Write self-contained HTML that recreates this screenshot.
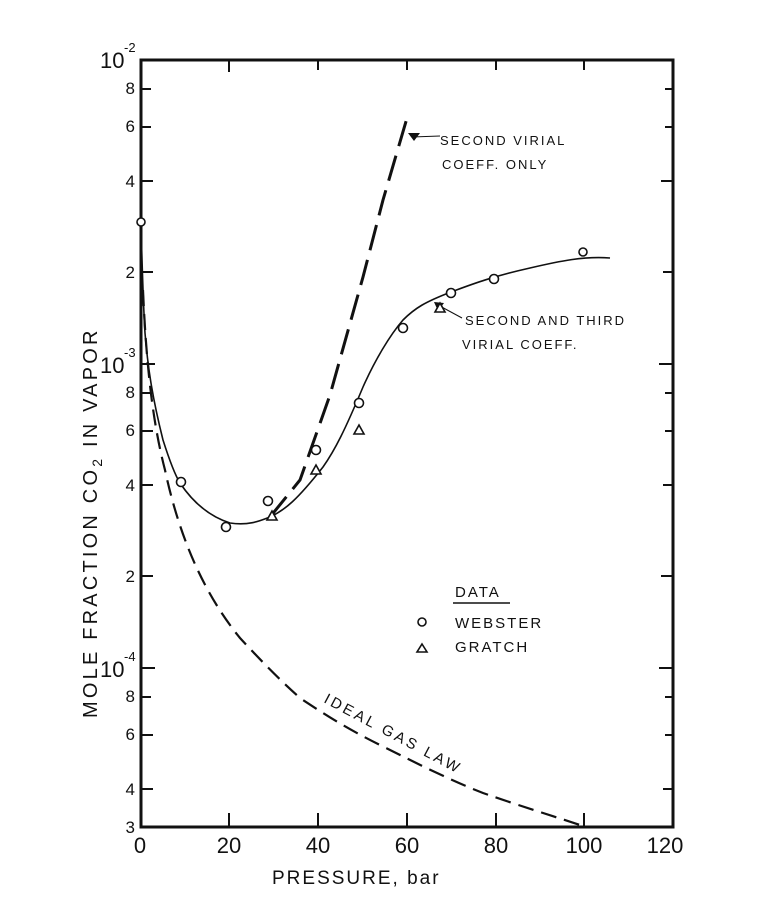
<!DOCTYPE html>
<html><head><meta charset="utf-8"><style>
html,body{margin:0;padding:0;background:#fff}
svg{display:block}
text{font-family:"Liberation Sans",sans-serif;fill:#111}
</style></head><body>
<svg width="768" height="897" viewBox="0 0 768 897" xmlns="http://www.w3.org/2000/svg">
<g stroke="#111" fill="none">
<rect x="141" y="60" width="532" height="767" stroke-width="3"/>
<path d="M229 827v-14M318 827v-14M407 827v-14M496 827v-14M584 827v-14M229 60v12M318 60v10M407 60v10M496 60v10M584 60v10" stroke-width="2"/>
<path d="M141 89h10M141 127h10M141 181h12M141 272h12M141 364h14M141 393h10M141 431h12M141 485h12M141 576h12M141 668h14M141 697h10M141 735h12M141 789h12" stroke-width="2"/>
<path d="M673 89h-8M673 127h-8M673 181h-12M673 272h-10M673 364h-14M673 393h-8M673 431h-8M673 485h-10M673 576h-12M673 668h-14M673 697h-8M673 735h-8M673 789h-10" stroke-width="2"/>
<path d="M141 225 C142 260 143 300 145 333 C148 370 153 400 163 440 C170 462 175 475 180 483 C190 498 205 515 230 523 C250 526 262 520 270 517 C285 510 297 500 323 467 C335 450 345 430 363 387 C375 360 390 335 403 320 C415 308 425 302 451 292 C470 285 490 277 530 268 C560 261 584 256 610 258" stroke-width="1.6"/>
<path d="M270 517 L300 480 L330 395 L363 277 L383 200 L407 118" stroke-width="3" stroke-dasharray="26 10"/>
<path d="M143 290 C146 360 152 420 165 470 C180 540 205 595 240 638 C265 665 280 680 300 698 C330 718 350 730 380 745 C420 765 450 780 483 793 C520 806 550 815 583 826" stroke-width="2.2" stroke-dasharray="16 8"/>
<path d="M412 137 L440 136" stroke-width="1"/>
<path d="M438 305 L462 318" stroke-width="1"/>
</g>
<polygon points="408,133 420,133 414,141" fill="#111"/>
<polygon points="434,302 444,303 438,311" fill="#111"/>
<g stroke="#111" stroke-width="1.6" fill="#fff">
<circle cx="141" cy="222" r="4"/>
<circle cx="181" cy="482" r="4.5"/>
<circle cx="226" cy="527" r="4.5"/>
<circle cx="268" cy="501" r="4.5"/>
<circle cx="316" cy="450" r="4.5"/>
<circle cx="359" cy="403" r="4.5"/>
<circle cx="403" cy="328" r="4.5"/>
<circle cx="451" cy="293" r="4.5"/>
<circle cx="494" cy="279" r="4.5"/>
<circle cx="583" cy="252" r="4"/>
<polygon points="272,511 277,520 267,520"/>
<polygon points="316,465 321,474 311,474"/>
<polygon points="359,425 364,434 354,434"/>
<polygon points="440,303 445,312 435,312"/>
<circle cx="422" cy="622" r="4"/>
<polygon points="422,644 427,652 417,652"/>
</g>
<g font-size="22">
<text x="140" y="853" text-anchor="middle">0</text>
<text x="229" y="853" text-anchor="middle">20</text>
<text x="318" y="853" text-anchor="middle">40</text>
<text x="407" y="853" text-anchor="middle">60</text>
<text x="496" y="853" text-anchor="middle">80</text>
<text x="584" y="853" text-anchor="middle">100</text>
<text x="665" y="853" text-anchor="middle">120</text>
</g>
<text x="272" y="884" font-size="19" letter-spacing="2">PRESSURE, bar</text>
<g font-size="17" text-anchor="end">
<text x="135" y="94">8</text>
<text x="135" y="132">6</text>
<text x="135" y="187">4</text>
<text x="135" y="278">2</text>
<text x="135" y="398">8</text>
<text x="135" y="436">6</text>
<text x="135" y="491">4</text>
<text x="135" y="582">2</text>
<text x="135" y="702">8</text>
<text x="135" y="740">6</text>
<text x="135" y="795">4</text>
<text x="135" y="833">3</text>
</g>
<g font-size="22">
<text x="100" y="68">10</text><text x="124" y="52" font-size="13">-2</text>
<text x="100" y="373">10</text><text x="124" y="357" font-size="13">-3</text>
<text x="100" y="677">10</text><text x="124" y="661" font-size="13">-4</text>
</g>
<text transform="translate(97,718) rotate(-90)" font-size="20" letter-spacing="3.2">MOLE FRACTION CO<tspan font-size="14" dy="5">2</tspan><tspan dy="-5"> IN VAPOR</tspan></text>
<g font-size="13" letter-spacing="2" fill="#333">
<text x="440" y="145">SECOND VIRIAL</text>
<text x="442" y="169">COEFF. ONLY</text>
<text x="465" y="325">SECOND AND THIRD</text>
<text x="462" y="349">VIRIAL COEFF.</text>
<text x="455" y="597" font-size="15">DATA</text>
<text x="455" y="628" font-size="15">WEBSTER</text>
<text x="455" y="652" font-size="15">GRATCH</text>
<text transform="translate(323,702) rotate(28)" font-size="15" letter-spacing="3">IDEAL GAS LAW</text>
</g>
<path d="M453 603h57" stroke="#111" stroke-width="1.5"/>
</svg>
</body></html>
